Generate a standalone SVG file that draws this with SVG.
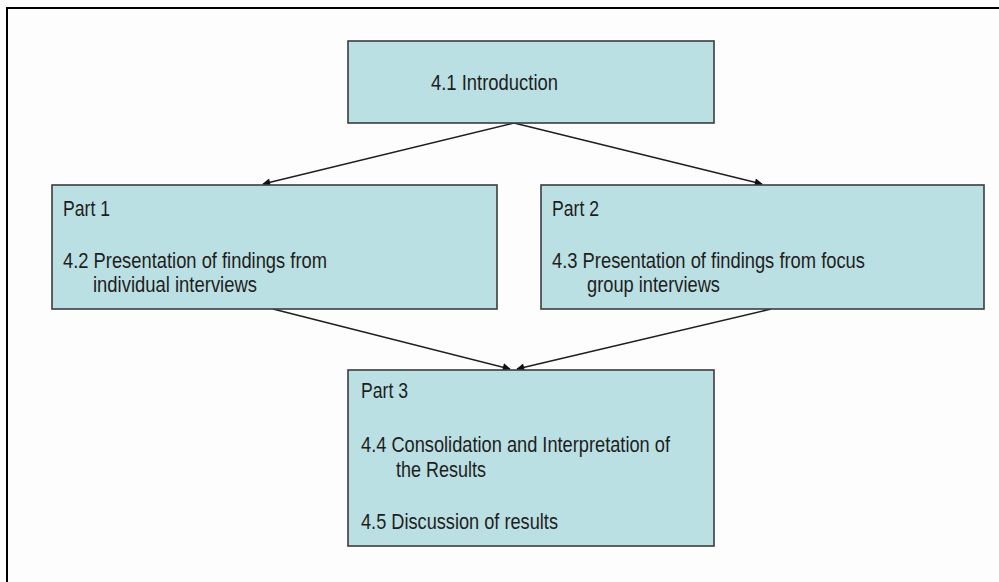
<svg xmlns="http://www.w3.org/2000/svg" width="999" height="582" viewBox="0 0 999 582">
  <defs>
    <style>
      .box { fill: #bbe0e3; stroke: #3c3c3c; stroke-width: 1.6; }
      .lbl { font-family: "Liberation Sans", Arial, sans-serif; font-size: 21.5px; fill: #1e1e1e; }
      .edge { stroke: #1e1e1e; stroke-width: 1.5; fill: none; marker-end: url(#arrow); }
    </style>
    <marker id="arrow" viewBox="0 0 10 10" refX="9" refY="5" markerWidth="10" markerHeight="8" markerUnits="userSpaceOnUse" orient="auto">
      <path d="M0,0 L10,5 L0,10 z" fill="#111"/>
    </marker>
  </defs>

  <!-- page background and frame -->
  <rect x="0" y="0" width="999" height="582" fill="#fdfdfd"/>
  <path d="M7,582 L7,8 L999,8" fill="none" stroke="#000" stroke-width="2"/>

  <!-- connectors -->
  <g id="connectors">
    <line class="edge" x1="514" y1="123" x2="263" y2="184"/>
    <line class="edge" x1="514" y1="123" x2="762" y2="184"/>
    <line class="edge" x1="273" y1="309" x2="510" y2="369"/>
    <line class="edge" x1="771" y1="309" x2="517" y2="369"/>
  </g>

  <g id="intro">
    <rect class="box" x="348" y="41" width="366" height="82"/>
    <text class="lbl" x="431" y="90" textLength="127" lengthAdjust="spacingAndGlyphs">4.1 Introduction</text>
  </g>

  <g id="part1">
    <rect class="box" x="52" y="185" width="445" height="124"/>
    <text class="lbl" x="63" y="215.5" textLength="47" lengthAdjust="spacingAndGlyphs">Part 1</text>
    <text class="lbl" x="63" y="267.5" textLength="264" lengthAdjust="spacingAndGlyphs">4.2 Presentation of findings from</text>
    <text class="lbl" x="93" y="292" textLength="164" lengthAdjust="spacingAndGlyphs">individual interviews</text>
  </g>

  <g id="part2">
    <rect class="box" x="541" y="185" width="443" height="124"/>
    <text class="lbl" x="552" y="215.5" textLength="47" lengthAdjust="spacingAndGlyphs">Part 2</text>
    <text class="lbl" x="552" y="267.5" textLength="313" lengthAdjust="spacingAndGlyphs">4.3 Presentation of findings from focus</text>
    <text class="lbl" x="587" y="292" textLength="133" lengthAdjust="spacingAndGlyphs">group interviews</text>
  </g>

  <g id="part3">
    <rect class="box" x="348" y="370" width="366" height="176"/>
    <text class="lbl" x="361" y="398" textLength="47" lengthAdjust="spacingAndGlyphs">Part 3</text>
    <text class="lbl" x="361" y="451.5" textLength="309" lengthAdjust="spacingAndGlyphs">4.4 Consolidation and Interpretation of</text>
    <text class="lbl" x="396" y="477" textLength="90" lengthAdjust="spacingAndGlyphs">the Results</text>
    <text class="lbl" x="361" y="529" textLength="197" lengthAdjust="spacingAndGlyphs">4.5 Discussion of results</text>
  </g>
</svg>
